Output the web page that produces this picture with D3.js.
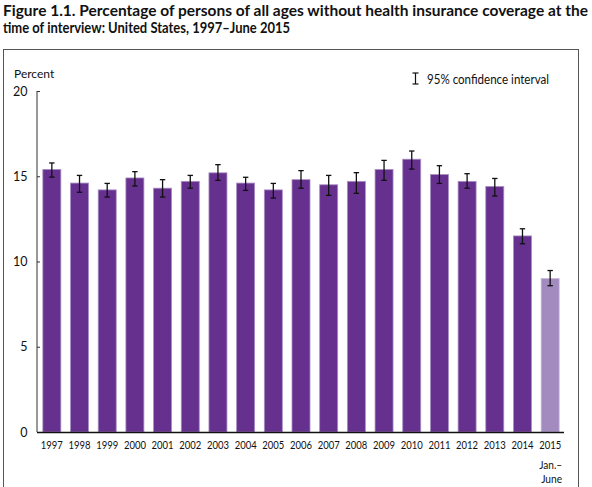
<!DOCTYPE html>
<html>
<head>
<meta charset="utf-8">
<script src="https://cdn.jsdelivr.net/npm/d3@7"></script>
<style>
  html, body { margin: 0; padding: 0; background: #fff; }
  svg { display: block; }
  text { font-family: Lato, "Open Sans", sans-serif; fill: #111; }
</style>
</head>
<body>
<svg id="chart" width="592" height="487"></svg>
<script>
const years = ["1997","1998","1999","2000","2001","2002","2003","2004","2005","2006","2007","2008","2009","2010","2011","2012","2013","2014","2015"];
const values = [15.4,14.6,14.2,14.9,14.3,14.7,15.2,14.6,14.2,14.8,14.5,14.7,15.4,16.0,15.1,14.7,14.4,11.5,9.0];
const lower  = [14.95,14.06,13.78,14.43,13.78,14.30,14.76,14.17,13.72,14.30,13.88,14.00,14.76,15.42,14.58,14.30,13.84,11.04,8.58];
const upper  = [15.78,15.05,14.58,15.27,14.80,15.05,15.68,14.94,14.58,15.33,15.05,15.21,15.93,16.48,15.62,15.15,14.87,11.92,9.47];
const yTicks = [0,5,10,15,20];
const titleLines = ["Figure 1.1. Percentage of persons of all ages without health insurance coverage at the",
                    "time of interview: United States, 1997\u2013June 2015"];

const svg = d3.select("#chart");

// frame
svg.append("rect").attr("x",3.5).attr("y",49.5).attr("width",575).attr("height",460)
  .attr("fill","none").attr("stroke","#555").attr("stroke-width",1);

// title
svg.append("text").attr("x",3).attr("y",15.5).attr("font-size",15).attr("font-weight","bold")
  .attr("textLength",585).attr("lengthAdjust","spacingAndGlyphs").text(titleLines[0]);
svg.append("text").attr("x",3).attr("y",32.5).attr("font-size",15).attr("font-weight","bold")
  .attr("textLength",287).attr("lengthAdjust","spacingAndGlyphs").text(titleLines[1]);

const x = d3.scaleBand().domain(years).range([38,564]).paddingInner(0.35).paddingOuter(0.175);
const y = d3.scaleLinear().domain([0,20]).range([432,91]);

// bars
svg.append("g").selectAll("rect").data(years).join("rect")
  .attr("x", d => x(d))
  .attr("width", x.bandwidth())
  .attr("y", (d,i) => y(values[i]))
  .attr("height", (d,i) => y(0) - y(values[i]))
  .attr("fill", (d,i) => i === years.length-1 ? "#a38abf" : "#66308f")
  .attr("stroke", (d,i) => i === years.length-1 ? "#c9b8da" : "#a88fc4")
  .attr("stroke-width", 0.8);

// error bars
const eb = svg.append("g").attr("stroke","#111").attr("stroke-width",1.3).attr("fill","none");
years.forEach((d,i) => {
  const cx = x(d) + x.bandwidth()/2;
  eb.append("line").attr("x1",cx).attr("x2",cx).attr("y1",y(upper[i])).attr("y2",y(lower[i]));
  eb.append("line").attr("x1",cx-2.7).attr("x2",cx+2.7).attr("y1",y(upper[i])).attr("y2",y(upper[i]));
  eb.append("line").attr("x1",cx-2.7).attr("x2",cx+2.7).attr("y1",y(lower[i])).attr("y2",y(lower[i]));
});

// y axis
const yAxis = d3.axisRight(y).tickValues(yTicks).tickSize(3).tickFormat("");
const gy = svg.append("g").attr("transform","translate(37,0)").call(yAxis);
gy.select(".domain").remove();
gy.selectAll("line").attr("stroke","#333");
svg.append("line").attr("x1",37).attr("x2",37).attr("y1",91).attr("y2",432).attr("stroke","#333").attr("stroke-width",1);
svg.append("g").selectAll("text").data(yTicks).join("text")
  .attr("x",27.5).attr("y",d => y(d)+4.5).attr("text-anchor","end").attr("font-size",12.5).text(d => d);
svg.append("text").attr("x",14).attr("y",78).attr("font-size",12).text("Percent");

// x axis
const xAxis = d3.axisBottom(x).tickSize(0).tickPadding(8);
const gx = svg.append("g").attr("transform","translate(0,432)").call(xAxis);
gx.select(".domain").attr("d","M37,0.5H564").attr("stroke","#111").attr("stroke-width",1.3);
gx.selectAll("text").attr("font-size",12).attr("font-family","Lato, sans-serif").attr("fill","#111")
  .attr("y",17).attr("dy",null)
  .attr("textLength",22).attr("lengthAdjust","spacingAndGlyphs");
const lastX = x("2015") + x.bandwidth()/2 + 12;
svg.append("text").attr("x",lastX).attr("y",469).attr("text-anchor","end").attr("font-size",11)
  .attr("textLength",23).attr("lengthAdjust","spacingAndGlyphs").text("Jan.\u2013");
svg.append("text").attr("x",lastX).attr("y",483).attr("text-anchor","end").attr("font-size",11)
  .attr("textLength",21).attr("lengthAdjust","spacingAndGlyphs").text("June");

// legend
const lg = svg.append("g").attr("stroke","#111").attr("stroke-width",1.2);
lg.append("line").attr("x1",415.5).attr("x2",415.5).attr("y1",73).attr("y2",84);
lg.append("line").attr("x1",412.5).attr("x2",418.5).attr("y1",73).attr("y2",73);
lg.append("line").attr("x1",412.5).attr("x2",418.5).attr("y1",84).attr("y2",84);
svg.append("text").attr("x",427).attr("y",84).attr("font-size",12.5)
  .attr("textLength",122).attr("lengthAdjust","spacingAndGlyphs").text("95% confidence interval");
</script>
</body>
</html>
